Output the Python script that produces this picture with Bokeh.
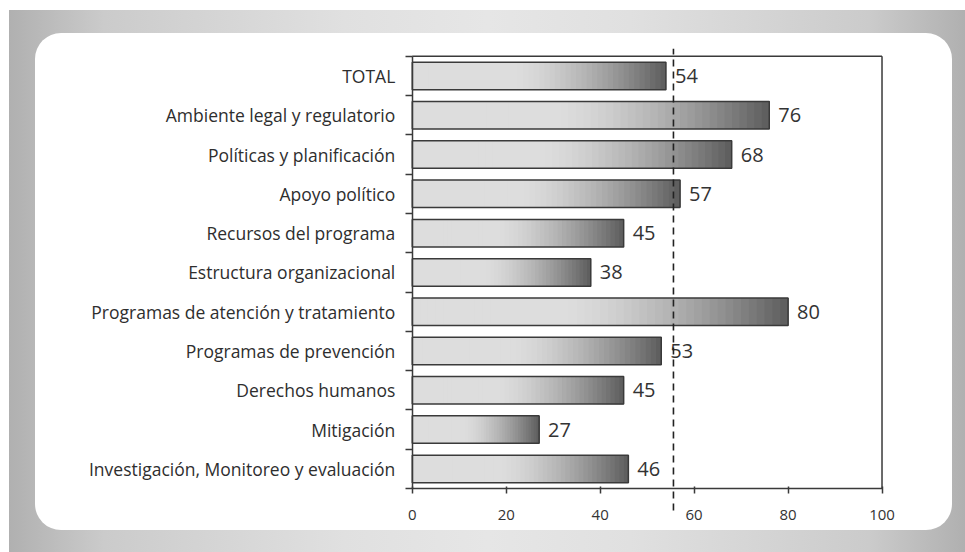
from bokeh.plotting import figure
from bokeh.layouts import column
from bokeh.models import Range1d, FixedTicker
from bokeh.core.properties import value
from bokeh.embed import file_html
from bokeh.resources import INLINE

categories = [
    "TOTAL",
    "Ambiente legal y regulatorio",
    "Políticas y planificación",
    "Apoyo político",
    "Recursos del programa",
    "Estructura organizacional",
    "Programas de atención y tratamiento",
    "Programas de prevención",
    "Derechos humanos",
    "Mitigación",
    "Investigación, Monitoreo y evaluación",
]
values = [54, 76, 68, 57, 45, 38, 80, 53, 45, 27, 46]
reference_value = 55.6
x_ticks = [0, 20, 40, 60, 80, 100]

FONT = "Open Sans"
n = len(categories)
ypos = [n - 1 - i for i in range(n)]

p = figure(
    width=917, height=497,
    x_range=Range1d(-79.15, 105), y_range=Range1d(-1.44, n - 0.5 + 0.25),
    output_backend="svg", toolbar_location=None,
    min_border_left=5, min_border_right=47, min_border_top=13, min_border_bottom=5,
    border_fill_color=None, background_fill_color=None, outline_line_color=None,
    margin=(23, 13, 22, 26),
    styles={"background-color": "white", "border-radius": "26px"},
)
p.grid.visible = False

# gradient bars (slices drawn from light to dark, each extending to the bar end)
N = 48
g_y, g_left, g_right, g_col = [], [], [], []
for yv, v in zip(ypos, values):
    for k in range(N):
        t = (k + 0.5) / N
        if t < 0.4:
            c = 221
        else:
            s = (t - 0.4) / 0.6
            c = 221 - (221 - 92) * s ** 1.5
        c = int(round(c))
        g_y.append(yv)
        g_left.append(v * k / N)
        g_right.append(v)
        g_col.append("#%02x%02x%02x" % (c, c, c))
p.hbar(y=g_y, left=g_left, right=g_right, height=0.7, fill_color=g_col, line_color=None)
p.hbar(y=ypos, left=0, right=values, height=0.7, fill_color=None,
       line_color="#3a3a3a", line_width=1.5)

# value labels
p.text(x=values, y=ypos, text=[str(v) for v in values], x_offset=9,
       text_baseline="middle", text_align="left", text_font=value(FONT),
       text_font_size="20px", text_color="#333333")

# box top and right
top = n - 0.5
p.segment(x0=[0, x_ticks[-1]], y0=[top, -0.5], x1=[x_ticks[-1], x_ticks[-1]], y1=[top, top],
          line_color="#3a3a3a", line_width=1.5)

# reference dashed line
p.segment(x0=[reference_value], y0=[-0.5 - 0.56], x1=[reference_value], y1=[top + 0.19],
          line_color="#222222", line_width=1.6, line_dash="7 5")

# y axis
yax = p.yaxis[0]
yax.fixed_location = 0
yax.ticker = FixedTicker(ticks=ypos, minor_ticks=[i - 0.5 for i in range(n + 1)])
yax.major_label_overrides = {yv: c for yv, c in zip(ypos, categories)}
yax.bounds = (-0.5, n - 0.5)
yax.major_tick_out = 0
yax.major_tick_in = 0
yax.minor_tick_out = 7
yax.minor_tick_in = 0
yax.minor_tick_line_color = "#3a3a3a"
yax.minor_tick_line_width = 1.5
yax.axis_line_color = "#3a3a3a"
yax.axis_line_width = 1.5
yax.major_label_standoff = 10
yax.major_label_text_font = FONT
yax.major_label_text_font_size = "17.5px"
yax.major_label_text_color = "#2e2e2e"

# x axis
xax = p.xaxis[0]
xax.fixed_location = -0.5
xax.ticker = FixedTicker(ticks=x_ticks)
xax.bounds = (0, 100)
xax.major_tick_out = 5
xax.major_tick_in = 2
xax.minor_tick_out = 0
xax.minor_tick_in = 0
xax.major_tick_line_color = "#3a3a3a"
xax.major_tick_line_width = 1.5
xax.axis_line_color = "#3a3a3a"
xax.axis_line_width = 1.5
xax.major_label_standoff = 16
xax.major_label_text_font = FONT
xax.major_label_text_font_size = "15px"
xax.major_label_text_color = "#333333"

layout = column(
    p,
    margin=(10, 0, 0, 9),
    styles={"background": "linear-gradient(to right, #b0b0b0 0%, #cbcbcb 10%, #e0e0e0 35%, #e6e6e6 50%, #e0e0e0 65%, #cbcbcb 90%, #b0b0b0 100%)"},
)

open("out.html", "w").write(file_html(layout, INLINE))
